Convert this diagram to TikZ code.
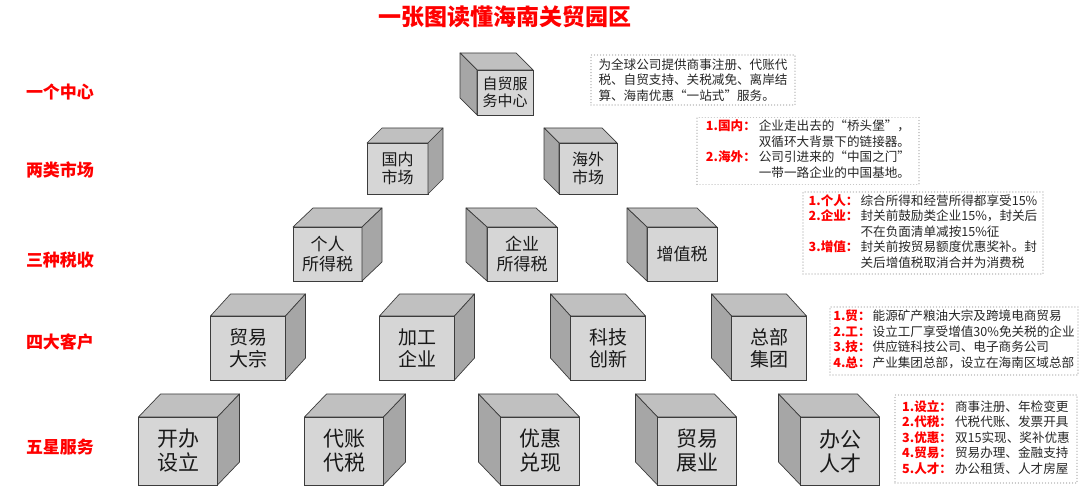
\documentclass[tikz,border=0pt]{standalone}
\usepackage{fontspec}
\setmainfont{Noto Sans CJK SC}
\usetikzlibrary{calc}
\definecolor{frontc}{RGB}{214,214,214}
\definecolor{topc}{RGB}{192,192,192}
\definecolor{sidec}{RGB}{166,166,166}
\definecolor{edgec}{RGB}{60,60,60}
\definecolor{labred}{RGB}{255,0,0}
\newcommand\lab[1]{\textcolor{labred}{\bfseries #1}}
\newcommand\mkcube[9]{%
  \node[cubefront, minimum width=#4pt, minimum height=#5pt, #8] (#1) at (#2,#3) {#9};
  \ifdim #6pt>0pt
    \filldraw[cubetop] (#1.north west) -- ++(#6,-#7) -- ($(#1.north east)+(#6,-#7)$) -- (#1.north east) -- cycle;
    \filldraw[cubeside] (#1.north east) -- ++(#6,-#7) -- ($(#1.south east)+(#6,-#7)$) -- (#1.south east) -- cycle;
  \else
    \filldraw[cubetop] (#1.north east) -- ++(#6,-#7) -- ($(#1.north west)+(#6,-#7)$) -- (#1.north west) -- cycle;
    \filldraw[cubeside] (#1.north west) -- ++(#6,-#7) -- ($(#1.south west)+(#6,-#7)$) -- (#1.south west) -- cycle;
  \fi
}
\tikzset{
  cubefront/.style={draw=edgec, fill=frontc, line width=0.7pt, inner sep=0pt, outer sep=0pt, align=center, text=black!90},
  cubetop/.style={draw=edgec, fill=topc, line width=0.7pt, line join=round},
  cubeside/.style={draw=edgec, fill=sidec, line width=0.7pt, line join=round},
  fA/.style={font=\fontsize{15}{17}\selectfont},
  fB/.style={font=\fontsize{16}{18.5}\selectfont},
  fC/.style={font=\fontsize{17}{20}\selectfont},
  fD/.style={font=\fontsize{19}{22}\selectfont},
  fE/.style={font=\fontsize{21}{24}\selectfont},
  rowlabel/.style={text=labred, font=\fontsize{17}{17}\selectfont\bfseries},
  infobox/.style={draw=gray!45, line width=1.4pt, dash pattern=on 0.01pt off 3pt, line cap=round,
    inner sep=0pt, align=left, text=black!85, font=\fontsize{12.6}{15.5}\selectfont},
}
\begin{document}
\begin{tikzpicture}[x=1pt,y=-1pt]
\useasboundingbox (0,0) rectangle (1080,486);

\node[text=labred, font=\fontsize{23}{23}\selectfont\bfseries] (title) at (505,17) {一张图读懂海南关贸园区};

\node[rowlabel] (l1) at (60,92) {一个中心};
\node[rowlabel] (l2) at (60,170) {两类市场};
\node[rowlabel] (l3) at (60,260) {三种税收};
\node[rowlabel] (l4) at (60,342) {四大客户};
\node[rowlabel] (l5) at (60,447) {五星服务};

% row 1
\mkcube{c11}{505}{92.5}{56}{45}{-17}{17}{fA}{自贸服\\务中心}
% row 2
\mkcube{c21}{397.5}{168.5}{61}{51}{15}{15}{fB}{国内\\市场}
\mkcube{c22}{588}{168.5}{58}{51}{-15}{15}{fB}{海外\\市场}
% row 3
\mkcube{c31}{327.5}{254}{69}{54}{20}{19}{fC}{个人\\所得税}
\mkcube{c32}{522}{254}{70}{54}{-21}{19}{fC}{企业\\所得税}
\mkcube{c33}{682}{254}{70}{54}{-20}{19}{fC}{增值税}
% row 4
\mkcube{c41}{248}{348}{75}{64}{20}{22}{fD}{贸易\\大宗}
\mkcube{c42}{417}{348}{75}{64}{20}{22}{fD}{加工\\企业}
\mkcube{c43}{608}{348}{75}{64}{-20}{22}{fD}{科技\\创新}
\mkcube{c44}{769}{348}{75}{64}{-20}{22}{fD}{总部\\集团}
% row 5
\mkcube{c51}{178}{451}{79}{68}{22}{23}{fE}{开办\\设立}
\mkcube{c52}{344}{451}{79}{68}{22}{23}{fE}{代账\\代税}
\mkcube{c53}{540}{451}{79}{68}{-22}{23}{fE}{优惠\\兑现}
\mkcube{c54}{697}{451}{79}{68}{-22}{23}{fE}{贸易\\展业}
\mkcube{c55}{840}{451}{79}{68}{-22}{23}{fE}{办公\\人才}

% info boxes
\node[infobox, minimum width=204pt, minimum height=50pt] (b1) at (693,80)
 {为全球公司提供商事注册、代账代\\税、自贸支持、关税减免、离岸结\\算、海南优惠“一站式”服务。};

\node[infobox, minimum width=222pt, minimum height=67pt] (b2) at (808,151)
 {\begin{tabular}{@{}l@{\hspace{3pt}}l@{}}
 \lab{1.国内：} & 企业走出去的“桥头堡”，\\
  & 双循环大背景下的链接器。\\
 \lab{2.海外：} & 公司引进来的“中国之门”\\
  & 一带一路企业的中国基地。
 \end{tabular}};

\node[infobox, minimum width=240pt, minimum height=82pt] (b3) at (923,233)
 {\begin{tabular}{@{}l@{\hspace{2pt}}l@{}}
 \lab{1.个人：} & 综合所得和经营所得都享受15\%\\
 \lab{2.企业：} & 封关前鼓励类企业15\%，封关后\\
  & 不在负面清单减按15\%征\\
 \lab{3.增值：} & 封关前按贸易额度优惠奖补。封\\
  & 关后增值税取消合并为消费税
 \end{tabular}};

\node[infobox, minimum width=248pt, minimum height=68pt] (b4) at (954,341)
 {\begin{tabular}{@{}l@{\hspace{2pt}}l@{}}
 \lab{1.贸：} & 能源矿产粮油大宗及跨境电商贸易\\
 \lab{2.工：} & 设立工厂享受增值30\%免关税的企业\\
 \lab{3.技：} & 供应链科技公司、电子商务公司\\
 \lab{4.总：} & 产业集团总部，设立在海南区域总部
 \end{tabular}};

\node[infobox, minimum width=182pt, minimum height=88pt] (b5) at (986,439)
 {\begin{tabular}{@{}l@{\hspace{3pt}}l@{}}
 \lab{1.设立：} & 商事注册、年检变更\\
 \lab{2.代税：} & 代税代账、发票开具\\
 \lab{3.优惠：} & 双15实现、奖补优惠\\
 \lab{4.贸易：} & 贸易办理、金融支持\\
 \lab{5.人才：} & 办公租赁、人才房屋
 \end{tabular}};
\end{tikzpicture}
\end{document}
